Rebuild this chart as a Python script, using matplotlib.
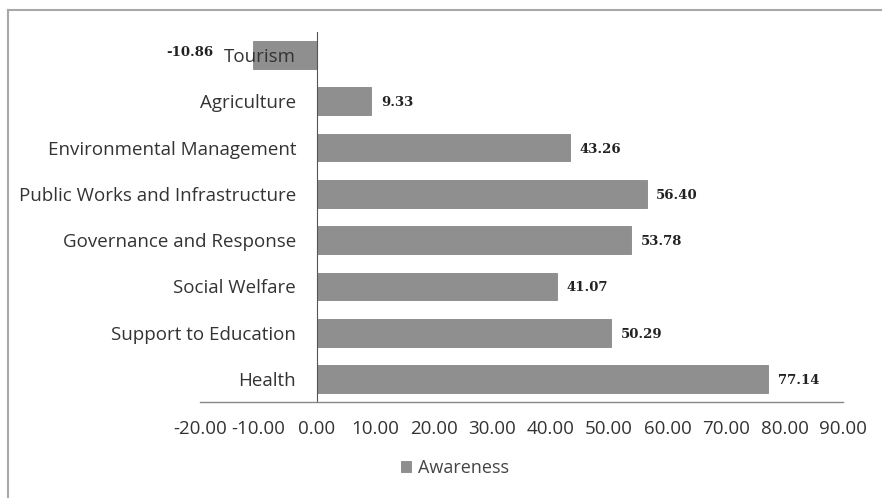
import numpy as np
import matplotlib.pyplot as plt
from matplotlib.lines import Line2D

# Datos del grafico
categorias = ['Tourism', 'Agriculture', 'Environmental Management',
              'Public Works and Infrastructure', 'Governance and Response',
              'Social Welfare', 'Support to Education', 'Health']
awareness = [-10.86, 9.33, 43.26, 56.40, 53.78, 41.07, 50.29, 77.14]
ticks_x = [-20, -10, 0, 10, 20, 30, 40, 50, 60, 70, 80, 90]

fuente = 'Open Sans'
fig = plt.figure(figsize=(8.82, 4.98), dpi=100)
ax = fig.add_axes([200/882, 1 - 402/498, 643/882, 370/498])

y = np.arange(len(categorias))
bars = ax.barh(y, awareness, height=0.6, color='#8f8f8f', edgecolor='#878787',
               linewidth=0.6, label='Awareness', zorder=1)
ax.set_ylim(len(categorias) - 0.5, -0.5)
ax.set_xlim(-20, 90)
ax.set_axisbelow(False)

# Etiquetas de valor
for b, v in zip(bars, awareness):
    yc = b.get_y() + b.get_height() / 2
    if v >= 0:
        ax.annotate(f'{v:.2f}', (v, yc), xytext=(7, -1), textcoords='offset points',
                    ha='left', va='center', fontsize=9.5, fontweight='bold',
                    family='DejaVu Serif', color='#222222')
    else:
        ax.annotate(f'{v:.2f}', (v, yc), xytext=(-29, 2), textcoords='offset points',
                    ha='right', va='center', fontsize=9.5, fontweight='bold',
                    family='DejaVu Serif', color='#222222')

# Ejes al estilo Excel
ax.spines['left'].set_position(('data', 0))
ax.spines['right'].set_visible(False)
ax.spines['top'].set_visible(False)
ax.spines['left'].set_color('#555555')
ax.spines['bottom'].set_color('#888888')
ax.spines['left'].set_linewidth(0.8)
ax.spines['bottom'].set_linewidth(1.0)

ax.set_yticks(y)
ax.set_yticklabels(categorias, family=fuente, fontsize=13.5, color='#333333')
ax.tick_params(axis='y', length=0, pad=15)
ax.set_xticks(ticks_x)
ax.set_xticklabels([f'{t:.2f}' for t in ticks_x], family=fuente, fontsize=13.5, color='#333333')
ax.tick_params(axis='x', length=0, pad=13)

fig.legend(handles=[bars], labels=['Awareness'], loc='center', bbox_to_anchor=(455/882, 1 - 468/498),
           frameon=False, prop={'family': fuente, 'size': 13}, handlelength=0.55, handleheight=0.55,
           handletextpad=0.4, labelcolor='#444444')

# Borde del grafico
fig.add_artist(Line2D([8/882, 8/882], [0, 1 - 10/498], color='#a8a8a8', lw=1.5))
fig.add_artist(Line2D([8/882, 1], [1 - 10/498, 1 - 10/498], color='#a8a8a8', lw=1.5))

fig.savefig('out.png', dpi=100)
